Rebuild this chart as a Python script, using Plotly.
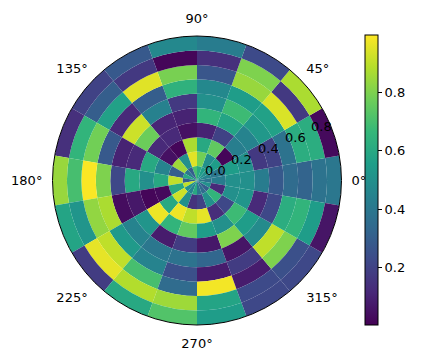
import math
import plotly.graph_objects as go

# sector centres (degrees) and ring inner edges
angles = [0, 20, 40, 60, 80, 100, 120, 140, 160, 180, 200, 220, 240, 260, 280, 300, 320, 340]
ring_inner = [0.0, 0.1, 0.2, 0.3, 0.4, 0.5, 0.6, 0.7, 0.8, 0.9]
ring_width = 0.1
sector_width = 20

# values[j][k]: ring j (inner -> outer), sector k
values = [
    [0.38, 0.45, 0.50, 0.55, 0.60, 0.70, 0.30, 0.40, 0.60, 0.30, 0.90, 0.50, 0.45, 0.60, 0.40, 0.35, 0.30, 0.50],
    [0.42, 0.40, 0.55, 0.50, 0.78, 0.95, 0.50, 0.85, 0.30, 0.90, 0.60, 0.92, 0.50, 0.15, 0.20, 0.50, 0.65, 0.12],
    [0.50, 0.55, 0.02, 0.75, 0.60, 0.87, 0.02, 0.05, 0.45, 0.60, 0.03, 0.60, 0.97, 0.90, 0.96, 0.13, 0.22, 0.50],
    [0.50, 0.50, 0.43, 0.20, 0.10, 0.05, 0.12, 0.12, 0.60, 0.50, 0.02, 0.97, 0.65, 0.75, 0.55, 0.50, 0.68, 0.52],
    [0.42, 0.17, 0.45, 0.58, 0.65, 0.10, 0.11, 0.77, 0.12, 0.60, 0.07, 0.52, 0.08, 0.18, 0.07, 0.80, 0.55, 0.12],
    [0.28, 0.20, 0.53, 0.68, 0.50, 0.17, 0.44, 0.92, 0.10, 0.22, 0.04, 0.45, 0.40, 0.38, 0.33, 0.06, 0.48, 0.22],
    [0.35, 0.38, 0.57, 0.55, 0.47, 0.64, 0.30, 0.12, 0.28, 0.80, 0.87, 0.54, 0.45, 0.25, 0.08, 0.18, 0.90, 0.62],
    [0.32, 0.62, 0.94, 0.84, 0.27, 0.79, 0.95, 0.57, 0.78, 0.99, 0.83, 0.90, 0.70, 0.35, 0.98, 0.08, 0.80, 0.65],
    [0.38, 0.62, 0.17, 0.80, 0.14, 0.02, 0.17, 0.30, 0.65, 0.70, 0.52, 0.96, 0.88, 0.85, 0.58, 0.23, 0.25, 0.55],
    [0.40, 0.03, 0.87, 0.23, 0.42, 0.47, 0.28, 0.20, 0.14, 0.84, 0.58, 0.18, 0.60, 0.72, 0.55, 0.22, 0.22, 0.06],
]

angle_ticks = [0, 45, 90, 135, 180, 225, 270, 315]
angle_labels = ["0°", "45°", "90°", "135°", "180°", "225°", "270°", "315°"]
radial_ticks = [0.0, 0.2, 0.4, 0.6, 0.8]
radial_labels = ["0.0", "0.2", "0.4", "0.6", "0.8"]
radial_label_angle = 22.5
cbar_ticks = [0.2, 0.4, 0.6, 0.8]

theta, base, rlen, color = [], [], [], []
for j, r0 in enumerate(ring_inner):
    for k, a in enumerate(angles):
        theta.append(a)
        base.append(r0)
        rlen.append(ring_width)
        color.append(values[j][k])

W, H = 428, 353
cx, cy, R = 197, 180.5, 144.5
rmax = 1.0

fig = go.Figure(go.Barpolar(
    theta=theta, r=rlen, base=base, width=[sector_width] * len(theta),
    marker=dict(
        color=color, colorscale="Viridis", cmin=0.005, cmax=0.995,
        line=dict(width=0),
        colorbar=dict(
            x=365 / W, xanchor="left", xpad=0,
            y=1 - 180 / H, yanchor="middle", ypad=0,
            len=290 / H, lenmode="fraction", thickness=13,
            outlinecolor="black", outlinewidth=1,
            tickvals=cbar_ticks, ticks="outside", ticklen=4, tickcolor="black",
            tickfont=dict(family="DejaVu Sans", size=13, color="black"),
        ),
    ),
    hoverinfo="none",
))

# radial tick labels placed like matplotlib (horizontal, beside the 22.5 deg spoke)
ca = math.cos(math.radians(radial_label_angle))
sa = math.sin(math.radians(radial_label_angle))
annotations = []
for v, lab in zip(radial_ticks, radial_labels):
    px = cx + R * v / rmax * ca + 18
    py = cy - R * v / rmax * sa - 9.6
    annotations.append(dict(
        x=px / W, y=1 - py / H, xref="paper", yref="paper",
        text=lab, showarrow=False, xanchor="center", yanchor="middle",
        font=dict(family="DejaVu Sans", size=13, color="black"),
    ))

fig.update_layout(
    width=W, height=H,
    margin=dict(l=0, r=0, t=0, b=0),
    paper_bgcolor="white", plot_bgcolor="white",
    font=dict(family="DejaVu Sans", size=13, color="black"),
    showlegend=False,
    annotations=annotations,
    polar=dict(
        domain=dict(x=[(cx - R) / W, (cx + R) / W], y=[1 - (cy + R) / H, 1 - (cy - R) / H]),
        bgcolor="white",
        bargap=0,
        angularaxis=dict(
            rotation=0, direction="counterclockwise",
            tickmode="array", tickvals=angle_ticks, ticktext=angle_labels,
            showgrid=False, showline=True, linecolor="black", linewidth=1,
            ticks="outside", ticklen=7, tickcolor="rgba(0,0,0,0)",
            tickfont=dict(family="DejaVu Sans", size=13, color="black"),
        ),
        radialaxis=dict(
            range=[0, rmax], angle=radial_label_angle,
            showticklabels=False,
            showgrid=False, showline=False, ticks="",
        ),
    ),
)

fig.write_html("out.html")
